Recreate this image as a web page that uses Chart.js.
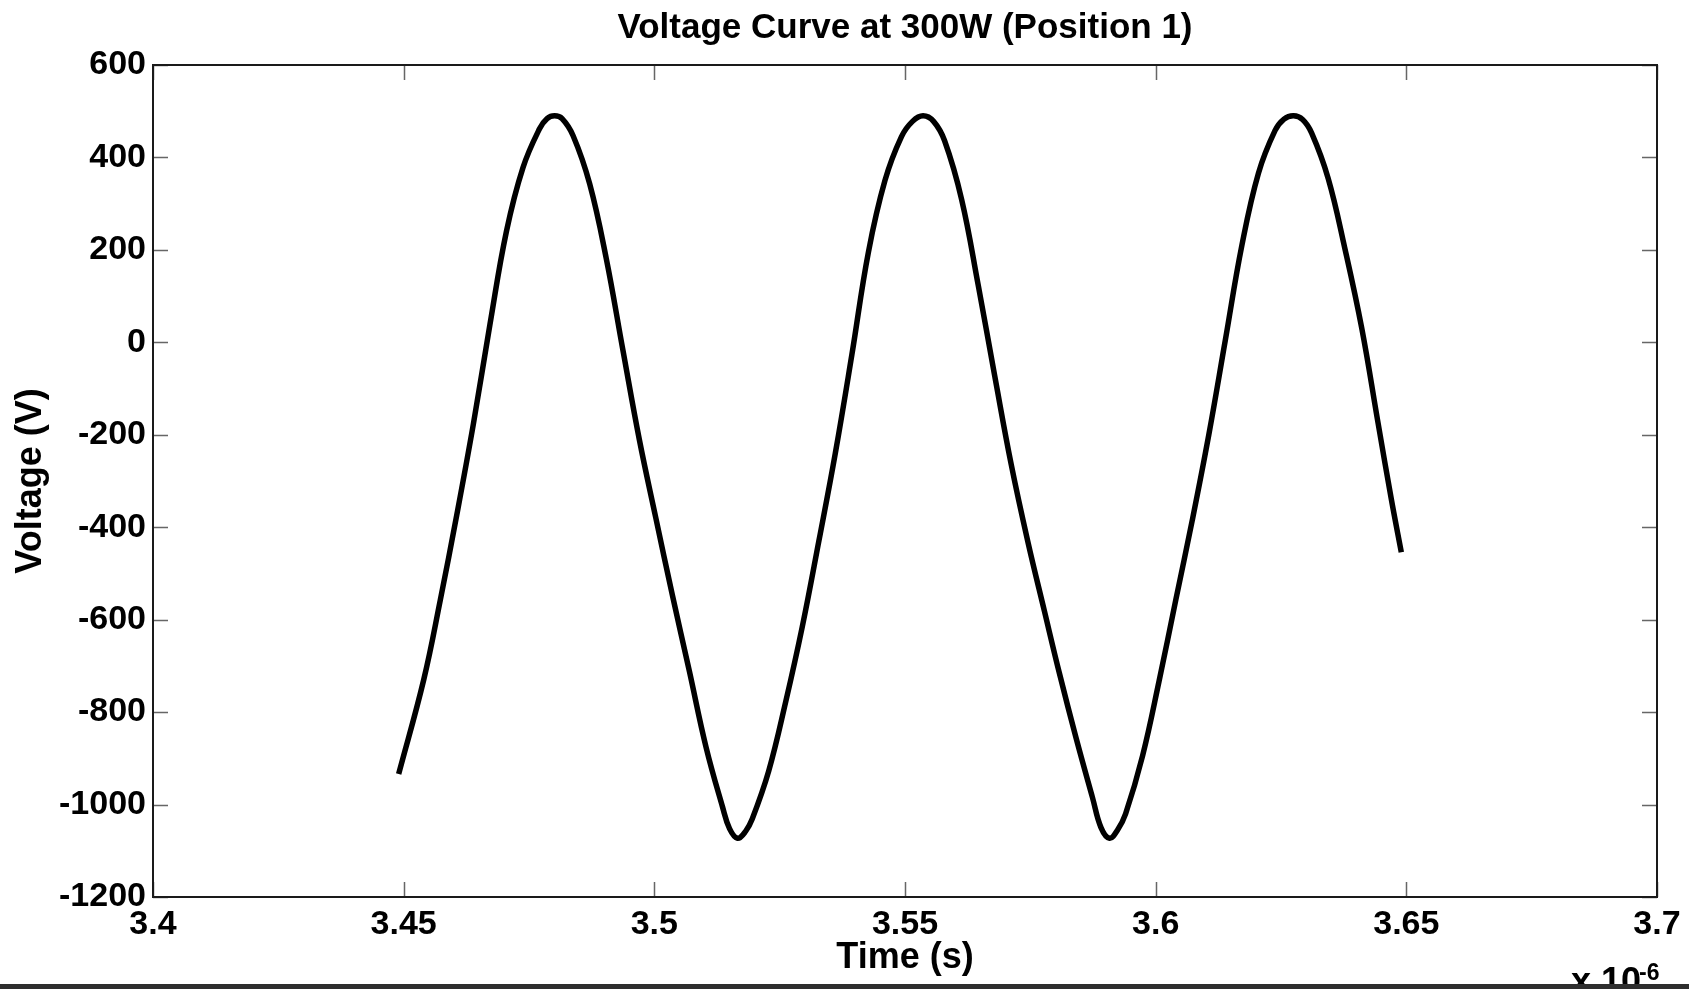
<!DOCTYPE html>
<html>
<head>
<meta charset="utf-8">
<title>Voltage Curve at 300W (Position 1)</title>
<script src="https://cdn.jsdelivr.net/npm/chart.js@4.4.1/dist/chart.umd.min.js"></script>
<style>
  html, body { margin: 0; padding: 0; background: #fff; overflow: hidden; }
  #wrap { width: 1689px; height: 989px; }
</style>
</head>
<body>
<div id="wrap"><canvas id="grafica" width="1689" height="989"></canvas></div>
<script>
// tiempo en unidades de 1e-6 s (el eje muestra "x 10^-6")
const time = [
  3.449, 3.454, 3.4573, 3.4606, 3.4639, 3.4672, 3.4705, 3.4738, 3.4771, 3.4786,
  3.4801, 3.4816, 3.4838, 3.4871, 3.4904, 3.4937, 3.4970, 3.5003, 3.5036, 3.5070,
  3.5103, 3.5136, 3.5150, 3.5166, 3.5182, 3.5195, 3.5228, 3.5262, 3.5295, 3.5328,
  3.5361, 3.5394, 3.5427, 3.5460, 3.5493, 3.5515, 3.5536, 3.5557, 3.5579, 3.5613,
  3.5646, 3.5679, 3.5712, 3.5745, 3.5778, 3.5808, 3.5841, 3.5874, 3.5891, 3.5908,
  3.5924, 3.5940, 3.5974, 3.6007, 3.6040, 3.6073, 3.6106, 3.6139, 3.6172, 3.6205,
  3.6238, 3.6256, 3.6275, 3.6293, 3.6311, 3.6344, 3.6377, 3.6411, 3.6444, 3.6470,
  3.6490
];
const voltage = [
  -934, -730, -558, -373, -177, 38, 240, 378, 462, 484,
  490, 484, 447, 343, 182, -15, -210, -380, -547, -712,
  -875, -1005, -1052, -1073, -1058, -1032, -928, -778, -616, -431,
  -240, -27, 195, 350, 445, 478, 490, 478, 436, 309,
  124, -73, -265, -431, -581, -716, -855, -985, -1050, -1073,
  -1055, -1020, -894, -732, -558, -385, -200, 5, 210, 366,
  458, 483, 490, 482, 453, 355, 205, 31, -177, -339,
  -454
];
const xTicks = [3.4, 3.45, 3.5, 3.55, 3.6, 3.65, 3.7];
const yTicks = [600, 400, 200, 0, -200, -400, -600, -800, -1000, -1200];
const tituloGrafica = 'Voltage Curve at 300W (Position 1)';

const fuente = "'Liberation Sans', Arial, Helvetica, sans-serif";

// Caja de ejes estilo MATLAB con marcas hacia dentro, titulo y exponente
const cajaEjes = {
  id: 'cajaEjes',
  afterDatasetsDraw(chart) {
    const ctx = chart.ctx;
    const a = chart.chartArea;
    const sx = chart.scales.x;
    const sy = chart.scales.y;
    const largo = 15;
    ctx.save();
    ctx.strokeStyle = '#666';
    ctx.lineWidth = 1.5;
    ctx.beginPath();
    xTicks.forEach(v => {
      const px = Math.round(sx.getPixelForValue(v)) + 0.5;
      ctx.moveTo(px, a.top); ctx.lineTo(px, a.top + largo);
      ctx.moveTo(px, a.bottom); ctx.lineTo(px, a.bottom - largo);
    });
    yTicks.forEach(v => {
      const py = Math.round(sy.getPixelForValue(v)) + 0.5;
      ctx.moveTo(a.left, py); ctx.lineTo(a.left + largo, py);
      ctx.moveTo(a.right, py); ctx.lineTo(a.right - largo, py);
    });
    ctx.stroke();
    ctx.strokeStyle = '#1a1a1a';
    ctx.lineWidth = 2;
    ctx.strokeRect(a.left, a.top, a.right - a.left, a.bottom - a.top);
    ctx.restore();
  },
  afterDraw(chart) {
    const ctx = chart.ctx;
    const a = chart.chartArea;
    ctx.save();
    ctx.fillStyle = '#000';
    // titulo centrado sobre los ejes
    ctx.textAlign = 'center';
    ctx.textBaseline = 'middle';
    ctx.font = 'bold 35px ' + fuente;
    ctx.fillText(tituloGrafica, (a.left + a.right) / 2, 28);
    // exponente del eje x
    ctx.textBaseline = 'alphabetic';
    ctx.textAlign = 'left';
    ctx.font = 'bold 36px ' + fuente;
    ctx.fillText('x 10', 1571, 993);
    ctx.font = 'bold 23px ' + fuente;
    ctx.fillText('-6', 1639, 980);
    // franja oscura inferior
    ctx.fillStyle = '#2e2e2e';
    ctx.fillRect(0, 984, chart.width, 5);
    ctx.restore();
  }
};

const ctxVoltaje = document.getElementById('grafica').getContext('2d');

const chartVoltaje = new Chart(ctxVoltaje, {
  type: 'line',
  data: {
    datasets: [{
      label: 'Voltage',
      data: time.map((t, i) => ({ x: t, y: voltage[i] })),
      borderColor: '#000',
      borderWidth: 5.5,
      pointRadius: 0,
      fill: false,
      tension: 0.4
    }]
  },
  options: {
    responsive: false,
    animation: false,
    layout: { padding: { top: 65, right: 32, bottom: 0, left: 0 } },
    plugins: {
      legend: { display: false },
      tooltip: { enabled: false },
      title: { display: false }
    },
    scales: {
      x: {
        type: 'linear',
        min: 3.4,
        max: 3.7,
        afterBuildTicks: (scale) => { scale.ticks = xTicks.map(v => ({ value: v })); },
        afterFit: (scale) => { scale.height = 92; },
        grid: { display: false, drawTicks: false },
        border: { display: false },
        ticks: {
          color: '#000',
          padding: 7,
          maxRotation: 0,
          autoSkip: false,
          font: { family: fuente, size: 34, weight: 'bold' },
          callback: (v) => String(parseFloat(Number(v).toFixed(2)))
        },
        title: {
          display: true,
          text: 'Time (s)',
          color: '#000',
          font: { family: fuente, size: 36, weight: 'bold' },
          padding: { top: 0, bottom: 9 }
        }
      },
      y: {
        type: 'linear',
        min: -1200,
        max: 600,
        afterBuildTicks: (scale) => { scale.ticks = yTicks.map(v => ({ value: v })); },
        afterFit: (scale) => { scale.width = 153; },
        grid: { display: false, drawTicks: false },
        border: { display: false },
        ticks: {
          color: '#000',
          padding: 7,
          autoSkip: false,
          font: { family: fuente, size: 34, weight: 'bold' },
          callback: (v) => String(v)
        },
        title: {
          display: true,
          text: 'Voltage (V)',
          color: '#000',
          font: { family: fuente, size: 36, weight: 'bold' },
          padding: { top: 9, bottom: 0 }
        }
      }
    }
  },
  plugins: [cajaEjes]
});
</script>
</body>
</html>
